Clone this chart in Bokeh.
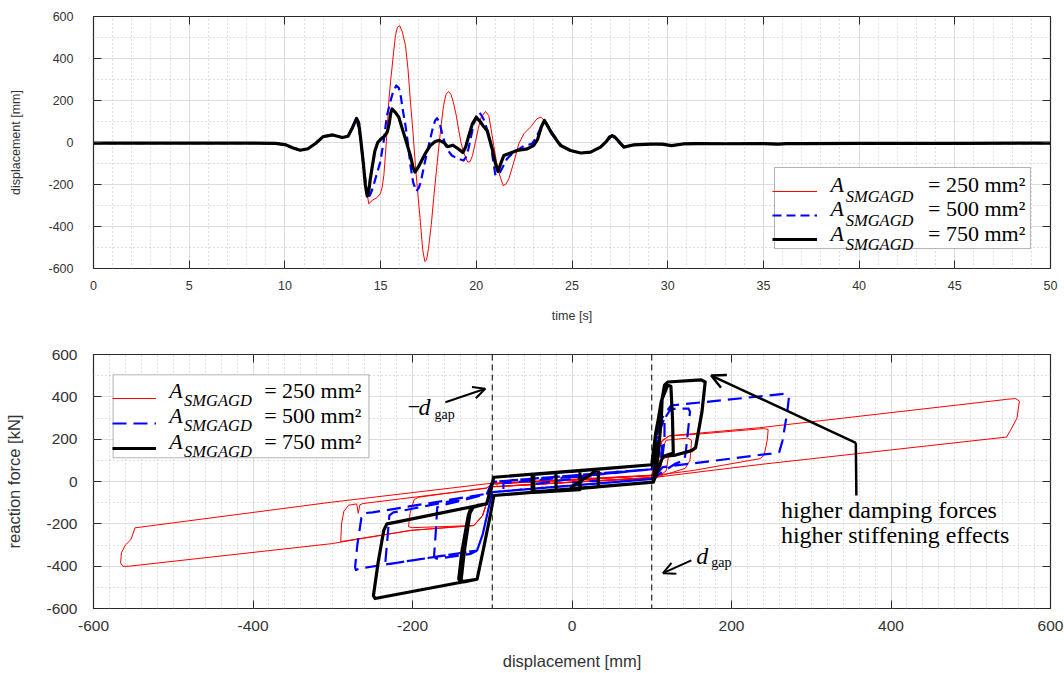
from bokeh.plotting import figure
from bokeh.layouts import column
from bokeh.models import (ColumnDataSource, Legend, LegendItem, Label, Span, Arrow, OpenHead,
                          SingleIntervalTicker, LinearAxis, Range1d, PrintfTickFormatter, BoxAnnotation)
from bokeh.core.properties import value
from bokeh.embed import file_html
from bokeh.resources import INLINE

# ---------------- data: time histories (time [s], displacement [mm]) ----------------
T_PRE = [0, 2, 4, 6, 8, 9.5, 10.0, 10.4, 10.8, 11.2, 11.6, 12.0, 12.5, 13.0, 13.3, 13.5, 13.74]
U_PRE = [-3, -3, -3, -3, -3, -4, -10, -25, -37, -30, -5, 28, 36, 24, 30, 65, 115]

T_POST = [27.4, 27.71, 28.24, 29.1, 29.7, 30.2, 30.8, 31.5, 33, 35, 35.8, 36.2, 37, 40, 45, 50]
U_POST = [5, -22, -11, -8, -8, -15, -7, -5, -6, -5, -8, -5, -5, -4, -4, -3]

T_250_MID = [13.95, 14.1, 14.38, 14.56, 14.82, 14.99, 15.08, 15.17, 15.25, 15.35,
             15.43, 15.52, 15.6, 15.69, 15.78, 15.88, 16.0, 16.14, 16.3, 16.43,
             16.56, 16.7, 16.82, 16.95, 17.08, 17.2, 17.31, 17.4, 17.5, 17.65,
             17.77, 17.9, 18.03, 18.16, 18.29, 18.42, 18.55, 18.68, 18.8, 18.95,
             19.07, 19.2, 19.33, 19.55, 19.68, 19.8, 19.95, 20.1, 20.25, 20.48,
             20.65, 20.78, 20.91, 21.05, 21.17, 21.4, 21.55, 21.7, 21.96, 22.22,
             22.48, 22.83, 23.17, 23.38, 23.6, 23.8, 24.0, 24.4, 24.92, 25.45,
             25.97, 26.49, 26.8, 27.1]
U_250_MID = [25, -120, -292, -276, -262, -243, -215, -156, -62, 73,
             200, 290, 359, 440, 510, 549, 556, 525, 462, 351,
             192, 40, -110, -250, -380, -510, -567, -560, -506, -390,
             -268, -150, -30, 80, 176, 230, 243, 228, 192, 130,
             65, 0, -46, -94, -90, -62, 0, 65, 120, 148,
             129, 60, -14, -90, -141, -205, -198, -173, -94, -6,
             41, 73, 113, 121, 100, 70, 40, -14, -38, -50,
             -46, -22, 5, 33]

T_500_MID = [13.95, 14.1, 14.34, 14.5, 14.63, 14.8, 14.98, 15.15, 15.33, 15.5,
             15.65, 15.82, 15.95, 16.05, 16.15, 16.3, 16.45, 16.56, 16.7, 16.87,
             17.0, 17.1, 17.25, 17.43, 17.6, 17.72, 17.85, 17.95, 18.08, 18.2,
             18.33, 18.46, 18.72, 19.07, 19.33, 19.46, 19.59, 19.72, 19.85, 20.0,
             20.16, 20.3, 20.45, 20.6, 20.74, 20.87, 21.0, 21.25, 21.6, 21.96,
             22.48, 22.9, 23.1, 23.26, 23.53, 23.65, 23.9, 24.2, 24.5, 24.92,
             25.45, 25.97, 26.49, 26.8, 27.1]
U_500_MID = [25, -110, -268, -240, -205, -150, -94, 0, 128, 192,
             240, 271, 260, 224, 160, 81, -20, -110, -190, -233,
             -215, -189, -120, -46, 20, 65, 105, 116, 95, 49,
             5, -30, -62, -78, -86, -70, -30, 25, 81, 125,
             144, 125, 97, 50, 0, -80, -157, -141, -78, -46,
             -17, -6, 20, 49, 100, 95, 55, 15, -20, -38,
             -50, -46, -22, 5, 33]

T_750_MID = [13.85, 13.95, 14.1, 14.2, 14.3, 14.38, 14.45, 14.56, 14.7, 14.85,
             15.0, 15.2, 15.35, 15.45, 15.53, 15.6, 15.7, 15.8, 15.95, 16.15,
             16.3, 16.55, 16.7, 16.8, 16.95, 17.1, 17.35, 17.6, 17.85, 18.06,
             18.3, 18.5, 18.78, 19.05, 19.3, 19.45, 19.6, 19.8, 20.0, 20.2,
             20.35, 20.57, 20.83, 21.0, 21.13, 21.3, 21.44, 21.79, 22.13, 22.66,
             23.0, 23.2, 23.4, 23.56, 23.75, 23.96, 24.4, 24.92, 25.45, 25.97,
             26.49, 26.8, 26.95, 27.1, 27.25]
U_750_MID = [95, 25, -100, -200, -255, -235, -181, -117, -40, 0,
             15, 30, 50, 90, 140, 160, 150, 140, 121, 60,
             17, -60, -120, -141, -120, -94, -50, -14, 5, 10,
             0, -20, -13, -30, -48, -20, 30, 90, 120, 100,
             80, 56, -30, -100, -138, -95, -62, -50, -38, -30,
             -14, 15, 75, 105, 75, 41, -14, -38, -50, -46,
             -22, 5, 25, 33, 25]

# ---------------- data: hysteresis (displacement [mm], reaction force [kN]) ----------------
D_250 = [0, 100, 106, 113, 110, 104, 0, -100, -106, -112, -123, -202, -290, -289, -286, -280, -270, -268, -266, -262,
         -107, -100, 100, 106, 113, 122, 235, 545, 556, 561, 558, 552, 545, 235, 105, 0, -100, -106, -112, -123,
         -202, -302, -555, -563, -566, -565, -560, -553, -548, -540, -302, -107, -100, 100, 106, 113, 122, 152, 240, 246,
         245, 241, 236, 152, 110, 100, -94, -94, 100, 108, 118, 145, 150, 148, 142, 125, 105, -100, -106, -112,
         -123, -200, -205, -203, -198, -192, -107, -100, 100, 110, 121, 118, 108, 100, -50, -50, 33, 33, 0]
F_250 = [5, 28, 70, 100, 40, 18, -3, -25, -90, -160, -208, -231, -284, -200, -140, -112, -106, -150, -110, -104,
         -32, -12, 28, 120, 190, 216, 254, 388, 392, 380, 300, 257, 210, 80, 20, -3, -25, -90, -160, -208,
         -231, -294, -400, -401, -385, -337, -300, -274, -219, -215, -98, -11, -8, 30, 120, 195, 215, 222, 250, 246,
         200, 125, 108, 52, 32, 18, -25, -10, 28, 110, 195, 205, 195, 100, 62, 42, 20, -25, -90, -160,
         -208, -218, -214, -150, -85, -74, -30, -12, 28, 100, 118, 50, 22, 16, -13, -2, 12, 2, -2]

D_500 = [0, 100, 105, 113, 111, 100, -100, -106, -112, -119, -200, -267, -271, -272, -269, -264, -261, -250,
         -107, -100, 100, 106, 113, 124, 266, 272, 270, 264, 260, 250, 114, 100, -100, -106, -112, -119,
         -233, -234, -231, -229, -224, -107, -100, 100, 108, 116, 116, 113, 100, -86, -86, 100, 108, 124,
         146, 148, 143, 141, 130, 100, -100, -106, -112, -119, -127, -170, -173, -171, -169, -160, -107, -100,
         100, 106, 104, 100, -50, -50, 33, 33, 0]
F_500 = [20, 58, 130, 170, 80, 12, -50, -150, -250, -326, -372, -412, -418, -405, -294, -170, -150, -146,
         -58, -2, 58, 200, 300, 359, 414, 398, 330, 194, 140, 132, 68, 12, -50, -150, -250, -326,
         -392, -380, -250, -160, -146, -60, -2, 58, 220, 300, 200, 100, 12, -46, -8, 58, 250, 343,
         345, 330, 150, 100, 85, 12, -50, -150, -250, -326, -342, -365, -355, -250, -122, -110, -60, -2,
         58, 110, 40, 12, -35, -14, 30, 5, -6]

D_750 = [0, 100, 105, 113, 112, 108, 102, -98, -102, -110, -119, -247, -249, -243, -236, -232, -222, -107,
         -102, -98, 100, 104, 110, 116, 120, 162, 167, 163, 155, 150, 130, 114, 108, 102, -98, -102,
         -110, -119, -140, -142, -138, -130, -127, -118, -107, -98, 10, 10, -48, -48, 100, 104,
         112, 120, 124, 126, 127, 114, 102, -98, -102, -110, -119, -136, -139, -135, -128, -124,
         -107, -98, 100, 104, 106, 105, 102, -50, -50, -20, -20, 33, 33, 0, 0]
F_750 = [48, 79, 230, 390, 300, 120, -3, -66, -150, -300, -462, -553, -540, -380, -230, -200, -193, -105,
         -40, 20, 79, 200, 330, 455, 470, 480, 470, 330, 160, 146, 125, 118, 60, -3, -66, -150,
         -300, -462, -474, -460, -330, -160, -128, -112, -105, 20, 52, -38, -52, 33, 79, 200,
         380, 455, 450, 300, 135, 118, -3, -66, -150, -300, -462, -474, -465, -330, -150, -122,
         -105, 20, 79, 150, 180, 100, -3, -50, 33, 42, -42, -25, 58, -25, -35, 50]

D_GAP = 100
LEGEND_AREAS = ["250", "500", "750"]

T_250 = T_PRE + T_250_MID + T_POST
U_250 = U_PRE + U_250_MID + U_POST
T_500 = T_PRE + T_500_MID + T_POST
U_500 = U_PRE + U_500_MID + U_POST
T_750 = T_PRE + T_750_MID + T_POST[1:]
U_750 = U_PRE + U_750_MID + U_POST[1:]

SANS = "Liberation Sans"
SERIF = "Liberation Serif"
TXT = "#333333"

def style(p, fs_tick, fs_label):
    p.outline_line_color = "#2b2b2b"
    p.outline_line_width = 1.2
    p.background_fill_color = "white"
    p.border_fill_color = "white"
    for g in (p.xgrid, p.ygrid):
        g.grid_line_color = "#dcdcdc"
        g.grid_line_width = 1
        g.minor_grid_line_color = "#bdbdbd"
        g.minor_grid_line_dash = "1 3"
        g.minor_grid_line_width = 1
    for ax in (p.xaxis, p.yaxis):
        ax.formatter = PrintfTickFormatter(format="%d")
        ax.axis_line_color = None
        ax.major_tick_in = 8
        ax.major_tick_out = 0
        ax.minor_tick_in = 0
        ax.minor_tick_out = 0
        ax.major_tick_line_color = "#2b2b2b"
        ax.major_label_text_font = SANS
        ax.major_label_text_font_size = fs_tick
        ax.major_label_text_color = TXT
        ax.axis_label_text_font = SANS
        ax.axis_label_text_font_size = fs_label
        ax.axis_label_text_font_style = "normal"
        ax.axis_label_text_color = TXT


def tick_only_axes(p, xt, yt):
    for loc, tk in (("above", xt), ("right", yt)):
        ax = LinearAxis(ticker=tk, major_tick_in=8, major_tick_out=0, minor_tick_in=0, minor_tick_out=0,
                        axis_line_color=None, major_tick_line_color="#2b2b2b",
                        major_label_text_font_size="0px", major_label_text_color=None,
                        major_label_standoff=0)
        p.add_layout(ax, loc)


def txt(p, x, y, text, size, italic=False):
    p.add_layout(Label(x=x, y=y, text=text, text_font=SERIF,
                       text_font_style="italic" if italic else "normal",
                       text_font_size=size, text_color="black", text_baseline="alphabetic",
                       level="overlay"))


def legend_box(p, renderers, box, loc, padding, spacing, gw, gh, lw):
    left, right, top, bottom = box
    p.add_layout(BoxAnnotation(left=left, right=right, top=top, bottom=bottom, fill_color="white",
                               fill_alpha=1, line_color="black", line_width=1, level="glyph"))
    leg = Legend(items=[LegendItem(label=value(" "), renderers=[r]) for r in renderers],
                 location=loc, margin=0, padding=padding, spacing=spacing, glyph_width=gw,
                 glyph_height=gh, label_height=gh, label_width=lw, label_standoff=5,
                 label_text_font_size="10px", border_line_color=None, background_fill_alpha=0)
    p.add_layout(leg, "center")


def legend_text(p, xa, xs, xe, ybase, ysub):
    for i, area in enumerate(LEGEND_AREAS):
        txt(p, xa, ybase[i], "A", "22px", True)
        txt(p, xs, ysub[i], "SMGAGD", "16.5px", True)
        txt(p, xe, ybase[i], "= " + area + " mm²", "22px")

# ---------------- top figure ----------------
p1 = figure(width=1064, height=330, output_backend="svg", toolbar_location=None,
            x_range=Range1d(0, 50), y_range=Range1d(-600, 600),
            min_border_left=93, min_border_right=14, min_border_top=16, min_border_bottom=62)
xt1 = SingleIntervalTicker(interval=5, num_minor_ticks=5)
yt1 = SingleIntervalTicker(interval=200, num_minor_ticks=2)
p1.xaxis.ticker = xt1
p1.yaxis.ticker = yt1
p1.xgrid.ticker = xt1
p1.ygrid.ticker = yt1
style(p1, "12.5px", "12.5px")
p1.xaxis.axis_label = "time [s]"
p1.yaxis.axis_label = "displacement [mm]"
p1.xaxis.major_label_standoff = 12
p1.yaxis.major_label_standoff = 20
p1.xaxis.axis_label_standoff = 16
p1.yaxis.axis_label_standoff = 22
tick_only_axes(p1, xt1, yt1)

s250 = ColumnDataSource(dict(t=T_250, u=U_250))
s500 = ColumnDataSource(dict(t=T_500, u=U_500))
s750 = ColumnDataSource(dict(t=T_750, u=U_750))
r1a = p1.line("t", "u", source=s250, line_color="#ff0000", line_width=1, line_join="round")
r1b = p1.line("t", "u", source=s500, line_color="#0000ff", line_width=2.2, line_dash="9 5", line_join="round")
r1c = p1.line("t", "u", source=s750, line_color="black", line_width=3.2, line_join="round")

legend_box(p1, (r1a, r1b, r1c), (35.58, 48.95, -119, -505), (679, 20), 7, 6, 45, 18, 190)
legend_text(p1, 38.51, 39.30, 43.6, [-200.0, -315.7, -431.4], [-255.5, -371.5, -487.5])

# ---------------- bottom figure ----------------
p2 = figure(width=1064, height=343, output_backend="svg", toolbar_location=None,
            x_range=Range1d(-600, 600), y_range=Range1d(-600, 600),
            min_border_left=92, min_border_right=12, min_border_top=24, min_border_bottom=65)
xt2 = SingleIntervalTicker(interval=200, num_minor_ticks=10)
yt2 = SingleIntervalTicker(interval=200, num_minor_ticks=2)
p2.xaxis.ticker = xt2
p2.yaxis.ticker = yt2
p2.xgrid.ticker = xt2
p2.ygrid.ticker = yt2
style(p2, "15.5px", "16.5px")
p2.xaxis.axis_label = "displacement [mm]"
p2.yaxis.axis_label = "reaction force [kN]"
p2.xaxis.major_label_standoff = 12
p2.yaxis.major_label_standoff = 16
p2.xaxis.axis_label_standoff = 18
p2.yaxis.axis_label_standoff = 20
tick_only_axes(p2, xt2, yt2)

for loc in (-D_GAP, D_GAP):
    p2.add_layout(Span(location=loc, dimension="height", line_color="black", line_width=1, line_dash="6 4"))

h250 = ColumnDataSource(dict(d=D_250, f=F_250))
h500 = ColumnDataSource(dict(d=D_500, f=F_500))
h750 = ColumnDataSource(dict(d=D_750, f=F_750))
r2a = p2.line("d", "f", source=h250, line_color="#ff0000", line_width=1, line_join="round")
r2b = p2.line("d", "f", source=h500, line_color="#0000ff", line_width=2.2, line_dash="14 7", line_join="round")
r2c = p2.line("d", "f", source=h750, line_color="black", line_width=3.2, line_join="round")

legend_box(p2, (r2a, r2b, r2c), (-575.4, -254.6, 504, 112), (19, 150), 6, 5, 44, 20, 195)
legend_text(p2, -505, -486.5, -386.0, [432.2, 311.7, 190.3], [384.0, 263.5, 142.1])

# gap annotations
txt(p2, -206, 354, "−", "22px")
txt(p2, -192.5, 354, "d", "24px", True)
txt(p2, -172.5, 318, "gap", "14px")
txt(p2, 155.9, -354, "d", "24px", True)
txt(p2, 174.6, -384, "gap", "14px")
p2.add_layout(Arrow(end=OpenHead(size=12, line_width=2, line_color="black"),
                    x_start=-158.75, y_start=374.6, x_end=-108.75, y_end=437.9,
                    line_width=2, line_color="black"))
p2.add_layout(Arrow(end=OpenHead(size=12, line_width=2, line_color="black"),
                    x_start=149.6, y_start=-373, x_end=114.1, y_end=-433,
                    line_width=2, line_color="black"))
p2.add_layout(Arrow(end=OpenHead(size=14, line_width=2.5, line_color="black"),
                    x_start=355.9, y_start=182.8, x_end=174.6, y_end=500.7,
                    line_width=2.5, line_color="black"))
p2.add_layout(Arrow(end=None, x_start=356.6, y_start=-66.1, x_end=355.9, y_end=182.8,
                    line_width=2.5, line_color="black"))
txt(p2, 262, -137, "higher damping forces", "24px")
txt(p2, 262, -255, "higher stiffening effects", "24px")

layout = column(p1, p2, spacing=0)
open("out.html", "w").write(file_html(layout, INLINE))
